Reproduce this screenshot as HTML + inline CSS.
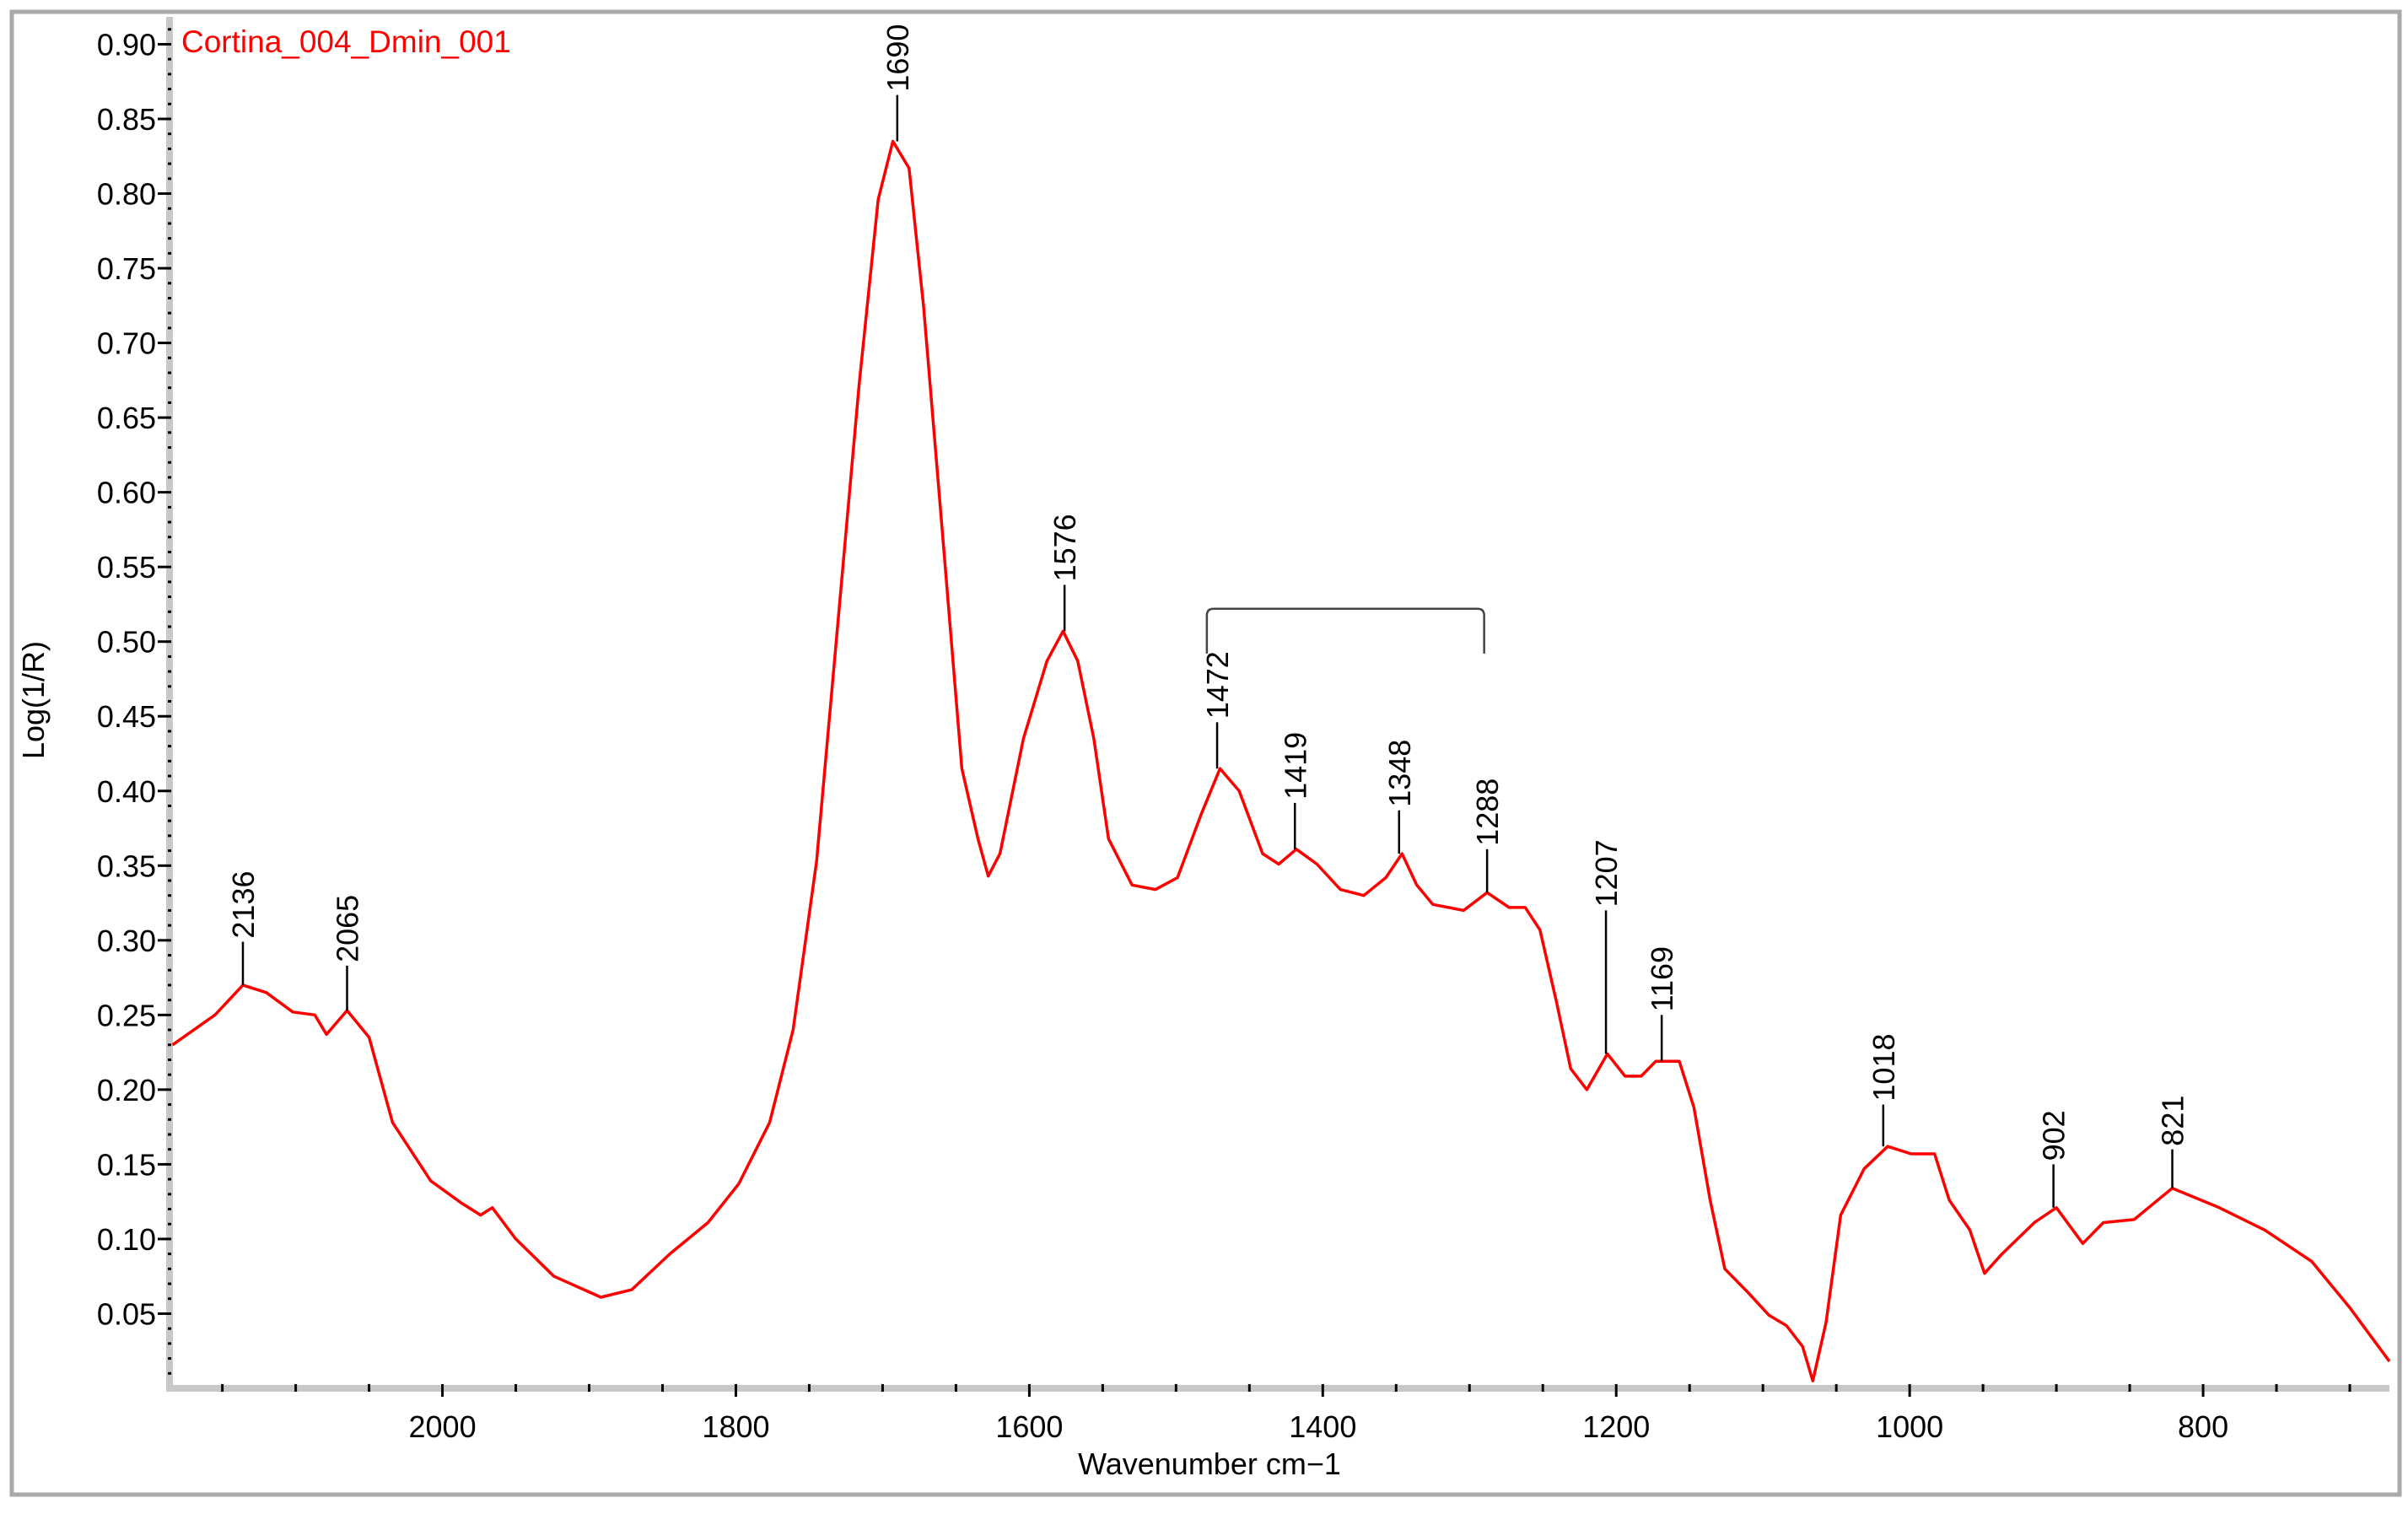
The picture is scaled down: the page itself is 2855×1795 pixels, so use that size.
<!DOCTYPE html>
<html><head><meta charset="utf-8"><style>
html,body{margin:0;padding:0;background:#fff;}
svg{display:block;font-family:"Liberation Sans",Arial,sans-serif;}
</style></head><body>
<svg id="chart" width="2855" height="1795" viewBox="0 0 2855 1795" xmlns="http://www.w3.org/2000/svg">
<rect x="14" y="14" width="2831" height="1758" fill="#fff" stroke="#a9a9a9" stroke-width="5"/>
<g id="axes"></g>
<g id="plot"></g>
<text x="215" y="62" font-size="37" fill="#ff0000">Cortina_004_Dmin_001</text>
<text x="1434" y="1748" font-size="36" text-anchor="middle" fill="#000">Wavenumber cm−1</text>
<text transform="translate(52,830) rotate(-90)" font-size="36" text-anchor="middle" fill="#000">Log(1/R)</text>
</svg>
<script>
const wavenumbers=[2184,2155,2136,2120,2102,2087,2079,2065,2050,2034,2008,1987,1974,1966,1950,1924,1892,1871,1845,1819,1798,1777,1761,1745,1730,1716,1703,1693,1682,1672,1659,1646,1635,1628,1620,1604,1588,1577,1567,1556,1546,1530,1514,1499,1483,1470,1457,1441,1430,1418,1404,1388,1372,1357,1346,1336,1325,1304,1288,1273,1262,1252,1241,1231,1220,1206,1194,1183,1173,1157,1147,1136,1126,1110,1096,1084,1073,1066,1057,1047,1031,1015,999,983,973,959,949,937,915,900,882,868,847,821,789,758,726,700,673];
const absorbance=[0.230,0.250,0.270,0.265,0.252,0.250,0.237,0.253,0.235,0.178,0.139,0.124,0.116,0.121,0.100,0.075,0.061,0.066,0.090,0.111,0.137,0.178,0.240,0.353,0.518,0.672,0.796,0.835,0.817,0.724,0.570,0.415,0.368,0.343,0.358,0.435,0.487,0.507,0.487,0.435,0.368,0.337,0.334,0.342,0.384,0.415,0.400,0.358,0.351,0.361,0.351,0.334,0.330,0.342,0.358,0.337,0.324,0.320,0.332,0.322,0.322,0.307,0.260,0.214,0.200,0.224,0.209,0.209,0.219,0.219,0.188,0.126,0.080,0.064,0.049,0.042,0.028,0.005,0.044,0.116,0.147,0.162,0.157,0.157,0.126,0.106,0.077,0.090,0.111,0.121,0.097,0.111,0.113,0.134,0.121,0.106,0.085,0.054,0.018];
const peakLabels=["2136","2065","1690","1576","1472","1419","1348","1288","1207","1169","1018","902","821"];
const peakWn=[2136,2065,1690,1576,1472,1419,1348,1288,1207,1169,1018,902,821];
const peakBase=[0.270,0.253,0.835,0.507,0.415,0.361,0.358,0.332,0.224,0.219,0.162,0.121,0.134];
const peakTop=[0.299,0.283,0.866,0.538,0.446,0.392,0.387,0.361,0.320,0.250,0.190,0.150,0.160];
const yTicks=["0.05","0.10","0.15","0.20","0.25","0.30","0.35","0.40","0.45","0.50","0.55","0.60","0.65","0.70","0.75","0.80","0.85","0.90"];
const xTicks=["2000","1800","1600","1400","1200","1000","800"];
const bracketRange=[1479,1290];
const bracketLevel=[0.522,0.492];

const X0=201,X1=2833,Y0=1646,YT=20;
const W_L=2186,W_R=673;
const xs=w=>X0+(W_L-w)*(X1-X0)/(W_L-W_R);
const ys=v=>Y0-v*1770.6;
const NS="http://www.w3.org/2000/svg";
function mk(tag,attrs,parent){const e=document.createElementNS(NS,tag);for(const k in attrs)e.setAttribute(k,attrs[k]);parent.appendChild(e);return e;}
const axes=document.getElementById('axes'),plot=document.getElementById('plot');

let l=mk('line',{x1:X0,y1:YT,x2:X0,y2:Y0+4,stroke:'#c8c8c8','stroke-width':8},axes);

l=mk('line',{x1:X0-4,y1:Y0,x2:X1,y2:Y0,stroke:'#c8c8c8','stroke-width':8},axes);

for(let i=1;i<=91;i++){const v=i/100;const y=ys(v);const major=i%5===0;
 const t=mk('line',{x1:major?X0-14:X0-2,y1:y,x2:X0+2,y2:y,stroke:'#000','stroke-width':3},axes);
 }
yTicks.forEach(s=>{const v=parseFloat(s);const t=mk('text',{x:X0-16,y:ys(v)+13,'font-size':36,'text-anchor':'end',fill:'#000'},axes);t.textContent=s;
 });
for(let w=700;w<=2150;w+=50){const x=xs(w);const major=w%200===0;
 const t=mk('line',{x1:x,y1:Y0-5,x2:x,y2:major?Y0+10:Y0+4,stroke:'#000','stroke-width':3},axes);
 }
xTicks.forEach(s=>{const w=parseFloat(s);const t=mk('text',{x:xs(w),y:Y0+58,'font-size':36,'text-anchor':'middle',fill:'#000'},axes);t.textContent=s;
 });

const d=wavenumbers.map((w,i)=>(i?'L':'M')+xs(w).toFixed(1)+','+ys(absorbance[i]).toFixed(1)).join(' ');
const p=mk('path',{d:d,fill:'none',stroke:'#ff0000','stroke-width':3.5,'stroke-linejoin':'round'},plot);


peakLabels.forEach((s,i)=>{const x=xs(peakWn[i]);
 const ln=mk('line',{x1:x,y1:ys(peakBase[i]),x2:x,y2:ys(peakTop[i]),stroke:'#000','stroke-width':2.5},plot);
 
 const t=mk('text',{transform:'translate('+(x+13)+','+(ys(peakTop[i])-4)+') rotate(-90)','font-size':36,fill:'#000'},plot);t.textContent=s;
 });

const bx1=xs(bracketRange[0]),bx2=xs(bracketRange[1]),by=ys(bracketLevel[0]),bl=ys(bracketLevel[1]);
const br=mk('path',{d:`M${bx1},${bl} L${bx1},${by+8} Q${bx1},${by} ${bx1+8},${by} L${bx2-8},${by} Q${bx2},${by} ${bx2},${by+8} L${bx2},${bl}`,fill:'none',stroke:'#444','stroke-width':2.5},plot);

</script>
</body></html>
